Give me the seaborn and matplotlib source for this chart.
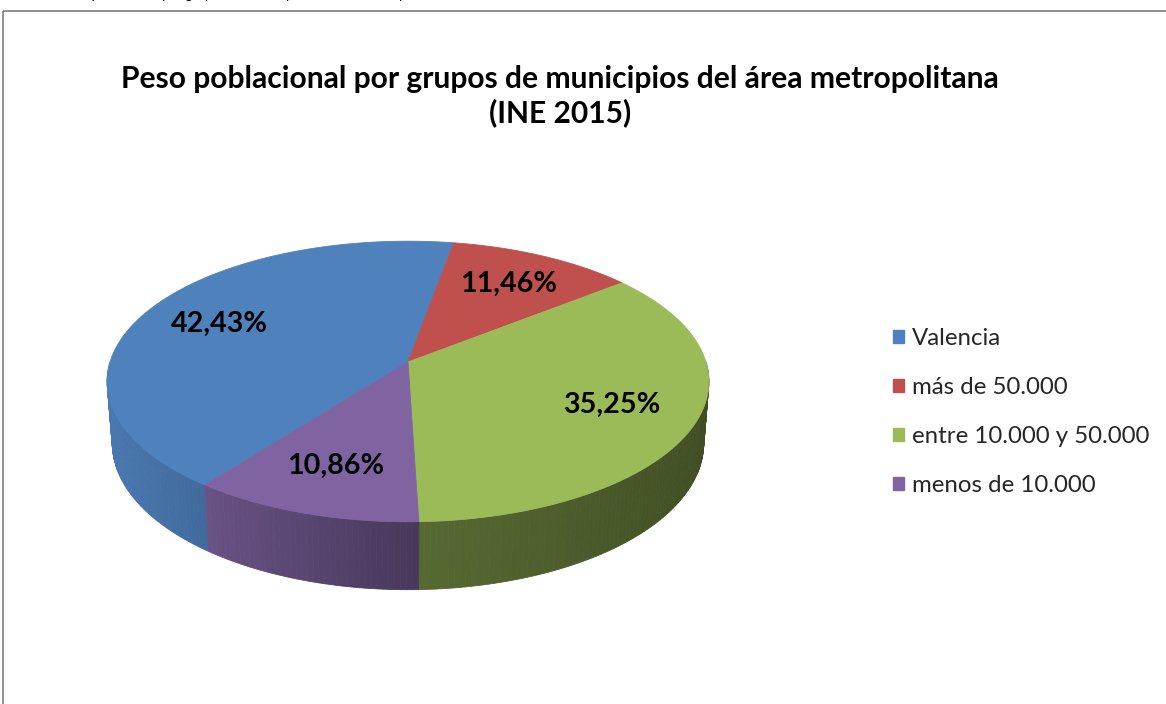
import numpy as np
import matplotlib
matplotlib.use("Agg")
import matplotlib.pyplot as plt
from matplotlib.patches import Polygon, Patch, Rectangle
import seaborn as sns

# datos (INE 2015)
grupos = ["Valencia", "más de 50.000", "entre 10.000 y 50.000", "menos de 10.000"]
peso = [42.43, 11.46, 35.25, 10.86]
etiquetas = ["42,43%", "11,46%", "35,25%", "10,86%"]
colores = ["#4F81BD", "#C0504D", "#9BBB59", "#8064A2"]
titulo = "Peso poblacional por grupos de municipios del área metropolitana\n(INE 2015)"
pie_de_pagina = "Peso poblacional por grupos de municipios del área metropolitana"

sns.set_theme(style="white")
plt.rcParams['font.family'] = ['Lato', 'DejaVu Sans']

#=================================================================================
# vista 3D (estilo Excel): elevacion, distancia de camara, escala
#=================================================================================
ELEV = np.radians(27.5)
DIST = 6.39
FOC = 1904
CX, CY = 408, 362
ALTO = 0.236
ANGULO_INICIO = 217.3  # grados, en sentido horario desde el fondo


def proyecta(phi, r=1.0, z=0.0):
    X = r * np.sin(phi)
    Y = r * np.cos(phi)
    s, c = np.sin(ELEV), np.cos(ELEV)
    d = DIST + Y * c - z * s
    return CX + FOC * X / d, CY - FOC * (Y * s + z * c) / d


def sombra(phi):
    return np.interp(np.sin(phi), [-1, -0.68, 0, 1], [0.94, 0.85, 0.57, 0.41])


fig = plt.figure(figsize=(11.66, 7.04), dpi=100)
ax = fig.add_axes([0, 0, 1, 1])
ax.set_xlim(0, 1166)
ax.set_ylim(704, 0)
ax.axis('off')
renderer = fig.canvas.get_renderer()


def ajusta(txt, ancho):
    w = txt.get_window_extent(renderer).width
    txt.set_fontsize(txt.get_fontsize() * ancho / w)
    return txt.get_fontsize()


# marco del grafico (recortado por la derecha y por abajo)
ax.add_patch(Rectangle((3, 11), 1200, 760, fill=False, edgecolor='#878787', lw=1.3))

paleta = sns.color_palette(colores)
fracs = np.array(peso) / np.sum(peso)
inicio = np.radians(ANGULO_INICIO) + 2 * np.pi * np.concatenate([[0], np.cumsum(fracs)[:-1]])
fin = inicio + 2 * np.pi * fracs

# laterales visibles (mitad frontal)
for a0, a1, col in zip(inicio, fin, paleta):
    for k in (0, 1):
        b0 = max(a0, np.pi / 2 + 2 * np.pi * k)
        b1 = min(a1, 3 * np.pi / 2 + 2 * np.pi * k)
        if b1 <= b0:
            continue
        angs = np.linspace(b0, b1, max(2, int(np.degrees(b1 - b0)) + 1))
        for p0, p1 in zip(angs[:-1], angs[1:]):
            xa, ya = proyecta(np.array([p0, p1]))
            xb, yb = proyecta(np.array([p1, p0]), z=-ALTO)
            f = sombra((p0 + p1) / 2)
            c = tuple(np.array(col) * f)
            ax.add_patch(Polygon(np.column_stack([np.r_[xa, xb], np.r_[ya, yb]]),
                                 closed=True, facecolor=c, edgecolor=c, lw=0.6))

# caras superiores
for a0, a1, col in zip(inicio, fin, paleta):
    angs = np.linspace(a0, a1, 200)
    xs, ys = proyecta(angs)
    ax.add_patch(Polygon(np.column_stack([np.r_[CX, xs], np.r_[CY, ys]]),
                         closed=True, facecolor=col, edgecolor=col, lw=0.6))

# etiquetas de porcentaje
tam = None
for a0, a1, lab in zip(inicio, fin, etiquetas):
    xl, yl = proyecta((a0 + a1) / 2, r=0.72)
    t = ax.text(xl, yl, lab, ha='center', va='center', fontsize=20,
                fontweight='bold', color='black')
    if tam is None:
        tam = ajusta(t, 97)
    t.set_fontsize(tam)

# titulo
tt = ax.text(560, 96, titulo, ha='center', va='center', fontsize=18,
             fontweight='bold', color='black', linespacing=1.2)
ajusta(tt, 880)

# linea del documento cortada por arriba (solo asoman los trazos descendentes)
ref = ax.text(0, -50, "poblacional por grupos de municipios del área metro", fontsize=9)
tam_pie = ajusta(ref, 307)
pre = ax.text(0, -50, "Peso ", fontsize=tam_pie)
w_pre = pre.get_window_extent(renderer).width
ref.remove()
pre.remove()
ax.text(92 - w_pre, -1.0, pie_de_pagina, ha='left', va='baseline',
        fontsize=tam_pie, color='black')

# leyenda
tmp = ax.text(0, -50, "entre 10.000 y 50.000", fontsize=14)
tam_ley = ajusta(tmp, 239)
tmp.remove()
handles = [Patch(facecolor=c, edgecolor=c, label=g) for g, c in zip(grupos, paleta)]
ax.legend(handles=handles, loc='center left', bbox_to_anchor=(893 / 1166, 1 - 412 / 704),
          frameon=False, fontsize=tam_ley, handlelength=0.45, handleheight=0.45,
          handletextpad=0.35, labelspacing=1.16, borderpad=0, borderaxespad=0)

plt.savefig('out.png', dpi=100)
